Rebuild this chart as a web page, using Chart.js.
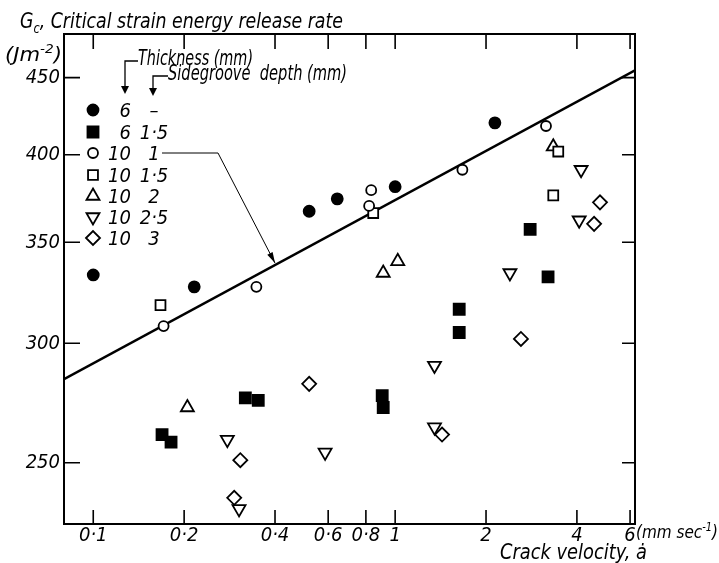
<!DOCTYPE html>
<html>
<head>
<meta charset="utf-8">
<script src="https://cdn.jsdelivr.net/npm/chart.js@4.4.1/dist/chart.umd.min.js"></script>
<style>
  html, body { margin: 0; padding: 0; background: #fff; }
</style>
</head>
<body>
<canvas id="chart" width="719" height="563"></canvas>
<script>
// Gc vs crack velocity, log-log, with fitted line for the 10mm / 1mm series

const FONT = "'Liberation Sans Narrow', 'DejaVu Sans Condensed', 'Liberation Sans', sans-serif";

// crack velocity (mm/s) and Gc (J/m^2), one pair of arrays per specimen type
const filledCircleV = [0.10, 0.216, 0.519, 0.643, 1.00, 2.14];
const filledCircleG = [333, 327, 367, 374, 381, 420];

const filledSquareV = [0.169, 0.181, 0.319, 0.352, 0.906, 0.913, 1.63, 1.63, 2.80, 3.21];
const filledSquareG = [261, 258, 276, 275, 277, 272, 316, 305, 357, 332];

const openCircleV = [0.171, 0.347, 0.820, 0.833, 1.67, 3.16];
const openCircleG = [308, 327, 370, 379, 391, 418];

const openSquareV = [0.167, 0.846, 3.34, 3.47];
const openSquareG = [318, 366, 376, 402];

const triUpV = [0.205, 0.913, 1.02, 3.34];
const triUpG = [272, 334, 340, 405];

const triDownV = [0.278, 0.304, 0.586, 1.35, 1.35, 2.40, 4.07, 4.13];
const triDownG = [259, 233, 254, 290, 264, 334, 362, 391];

const diamondV = [0.293, 0.307, 0.519, 1.43, 2.61, 4.56, 4.77];
const diamondG = [237, 251, 282, 261, 302, 360, 372];

// fitted line end points
const fitV = [0.08, 6.23];
const fitG = [284, 455];

const velocityTicks = [0.1, 0.2, 0.4, 0.6, 0.8, 1, 2, 4, 6];
const gcTicks = [250, 300, 350, 400, 450];

const legendThickness = ['6', '6', '10', '10', '10', '10', '10'];
const legendDepth = ['–', '1·5', '1', '1·5', '2', '2·5', '3'];

// marker looks, same order as the legend
const markers = [
  { style: 'circle', radius: 5.5, rotation: 0, fill: '#000' },
  { style: 'rect', radius: 7.8, rotation: 0, fill: '#000' },
  { style: 'circle', radius: 5, rotation: 0, fill: '#fff' },
  { style: 'rect', radius: 7, rotation: 0, fill: '#fff' },
  { style: 'triangle', radius: 7.5, rotation: 0, fill: '#fff' },
  { style: 'triangle', radius: 7.5, rotation: 180, fill: '#fff' },
  { style: 'rectRot', radius: 7, rotation: 0, fill: '#fff' }
];

const seriesData = [
  [filledCircleV, filledCircleG],
  [filledSquareV, filledSquareG],
  [openCircleV, openCircleG],
  [openSquareV, openSquareG],
  [triUpV, triUpG],
  [triDownV, triDownG],
  [diamondV, diamondG]
];

function toPoints(xs, ys) {
  return xs.map((x, i) => ({ x: x, y: ys[i] }));
}

function fmtTick(v) {
  return String(v).replace('.', '·');
}

function font(size) {
  return 'italic ' + size + 'px ' + FONT;
}

// draws text pieces left to right (sup/sub smaller and shifted),
// squeezed horizontally so the whole run is `width` wide
function drawRich(ctx, parts, x, y, size, width) {
  const sized = parts.map(p => {
    let s = size, dy = 0;
    if (p.sup) { s = size * 0.65; dy = -size * 0.4; }
    if (p.sub) { s = size * 0.65; dy = size * 0.22; }
    ctx.font = font(s);
    return { t: p.t, s: s, dy: dy, w: ctx.measureText(p.t).width };
  });
  const natural = sized.reduce((a, p) => a + p.w, 0);
  const k = width ? width / natural : 1;
  ctx.save();
  ctx.translate(x, y);
  ctx.scale(k, 1);
  let cx = 0;
  sized.forEach(p => {
    ctx.font = font(p.s);
    ctx.fillText(p.t, cx, p.dy);
    cx += p.w;
  });
  ctx.restore();
}

function arrowHead(ctx, x0, y0, x1, y1, len, half) {
  const a = Math.atan2(y1 - y0, x1 - x0);
  ctx.beginPath();
  ctx.moveTo(x1, y1);
  ctx.lineTo(x1 - len * Math.cos(a) + half * Math.sin(a), y1 - len * Math.sin(a) - half * Math.cos(a));
  ctx.lineTo(x1 - len * Math.cos(a) - half * Math.sin(a), y1 - len * Math.sin(a) + half * Math.cos(a));
  ctx.closePath();
  ctx.fill();
}

const datasets = seriesData.map((s, i) => ({
  type: 'scatter',
  data: toPoints(s[0], s[1]),
  pointStyle: markers[i].style,
  pointRadius: markers[i].radius,
  rotation: markers[i].rotation,
  pointBackgroundColor: markers[i].fill,
  pointBorderColor: '#000',
  pointBorderWidth: 1.8
}));

datasets.push({
  type: 'line',
  data: toPoints(fitV, fitG),
  borderColor: '#000',
  borderWidth: 2.5,
  pointRadius: 0,
  fill: false,
  tension: 0
});

const decorPlugin = {
  id: 'decor',
  afterDraw(chart) {
    const ctx = chart.ctx;
    const area = chart.chartArea;
    const xs = chart.scales.x;
    const ys = chart.scales.y;
    ctx.save();
    ctx.strokeStyle = '#000';
    ctx.fillStyle = '#000';

    // frame
    ctx.lineWidth = 2;
    ctx.strokeRect(area.left, area.top, area.right - area.left, area.bottom - area.top);

    // inward ticks on all four sides
    ctx.lineWidth = 1.6;
    ctx.beginPath();
    velocityTicks.forEach(v => {
      const px = xs.getPixelForValue(v);
      ctx.moveTo(px, area.bottom); ctx.lineTo(px, area.bottom - 14);
      ctx.moveTo(px, area.top); ctx.lineTo(px, area.top + 15);
    });
    gcTicks.forEach(g => {
      const py = ys.getPixelForValue(g);
      ctx.moveTo(area.left, py); ctx.lineTo(area.left + 16, py);
      ctx.moveTo(area.right, py); ctx.lineTo(area.right - 13, py);
    });
    ctx.stroke();

    // titles
    ctx.textAlign = 'left';
    ctx.textBaseline = 'alphabetic';
    drawRich(ctx, [{ t: 'G' }, { t: 'c', sub: true }, { t: ', Critical strain energy release rate' }], 20, 28, 21, 323);
    drawRich(ctx, [{ t: '(Jm' }, { t: '-2', sup: true }, { t: ')' }], 5, 61, 20, 57);
    drawRich(ctx, [{ t: '(mm sec' }, { t: '-1', sup: true }, { t: ')' }], 636, 538, 18, 82);
    drawRich(ctx, [{ t: 'Crack velocity, ȧ' }], 500, 559, 21, 147);

    // legend headers with their arrows
    drawRich(ctx, [{ t: 'Thickness (mm)' }], 138, 65, 21, 115);
    drawRich(ctx, [{ t: 'Sidegroove  depth (mm)' }], 168, 80, 21, 179);
    ctx.lineWidth = 1.3;
    ctx.beginPath();
    ctx.moveTo(138, 61); ctx.lineTo(125, 61); ctx.lineTo(125, 87);
    ctx.moveTo(168, 76); ctx.lineTo(153, 76); ctx.lineTo(153, 89);
    ctx.stroke();
    arrowHead(ctx, 125, 61, 125, 94, 8, 4);
    arrowHead(ctx, 153, 76, 153, 96, 8, 4);

    // legend rows
    const rowY = [110, 132, 153, 175, 196, 217, 238];
    markers.forEach((m, i) => {
      ctx.fillStyle = m.fill;
      ctx.strokeStyle = '#000';
      ctx.lineWidth = 1.8;
      Chart.helpers.drawPoint(ctx, { pointStyle: m.style, radius: m.radius, rotation: m.rotation, borderWidth: 1.8 }, 93, rowY[i]);
      ctx.fillStyle = '#000';
      ctx.font = font(20);
      ctx.textAlign = 'right';
      ctx.fillText(legendThickness[i], 131, rowY[i] + 7);
      ctx.textAlign = 'center';
      ctx.fillText(legendDepth[i], 154, rowY[i] + 7);
    });

    // pointer from the "10 / 1" legend row to the fitted line
    const tipV = 0.4;
    const t = (Math.log(tipV) - Math.log(fitV[0])) / (Math.log(fitV[1]) - Math.log(fitV[0]));
    const tipG = Math.exp(Math.log(fitG[0]) + t * (Math.log(fitG[1]) - Math.log(fitG[0])));
    const tx = xs.getPixelForValue(tipV);
    const ty = ys.getPixelForValue(tipG) - 2;
    ctx.lineWidth = 1;
    ctx.beginPath();
    ctx.moveTo(162, rowY[2]); ctx.lineTo(218, rowY[2]); ctx.lineTo(tx, ty);
    ctx.stroke();
    arrowHead(ctx, 218, rowY[2], tx, ty, 11, 3);

    ctx.restore();
  }
};

new Chart(document.getElementById('chart'), {
  data: { datasets: datasets },
  options: {
    responsive: false,
    animation: false,
    layout: { padding: { top: 34, right: 84, left: 0, bottom: 0 } },
    plugins: {
      legend: { display: false },
      tooltip: { enabled: false }
    },
    scales: {
      x: {
        type: 'logarithmic',
        min: 0.08,
        max: 6.23,
        afterBuildTicks: s => { s.ticks = velocityTicks.map(v => ({ value: v })); },
        afterFit: s => { s.height = 39; },
        grid: { display: false, drawTicks: false },
        border: { display: false },
        ticks: {
          callback: v => fmtTick(v),
          autoSkip: false,
          maxRotation: 0,
          padding: 0,
          color: '#000',
          font: { family: FONT, size: 20, style: 'italic' }
        }
      },
      y: {
        type: 'logarithmic',
        min: 227.7,
        max: 481,
        afterBuildTicks: s => { s.ticks = gcTicks.map(v => ({ value: v })); },
        afterFit: s => { s.width = 64; },
        grid: { display: false, drawTicks: false },
        border: { display: false },
        ticks: {
          callback: v => String(v),
          padding: 4,
          color: '#000',
          font: { family: FONT, size: 20, style: 'italic' }
        }
      }
    }
  },
  plugins: [decorPlugin]
});
</script>
</body>
</html>
